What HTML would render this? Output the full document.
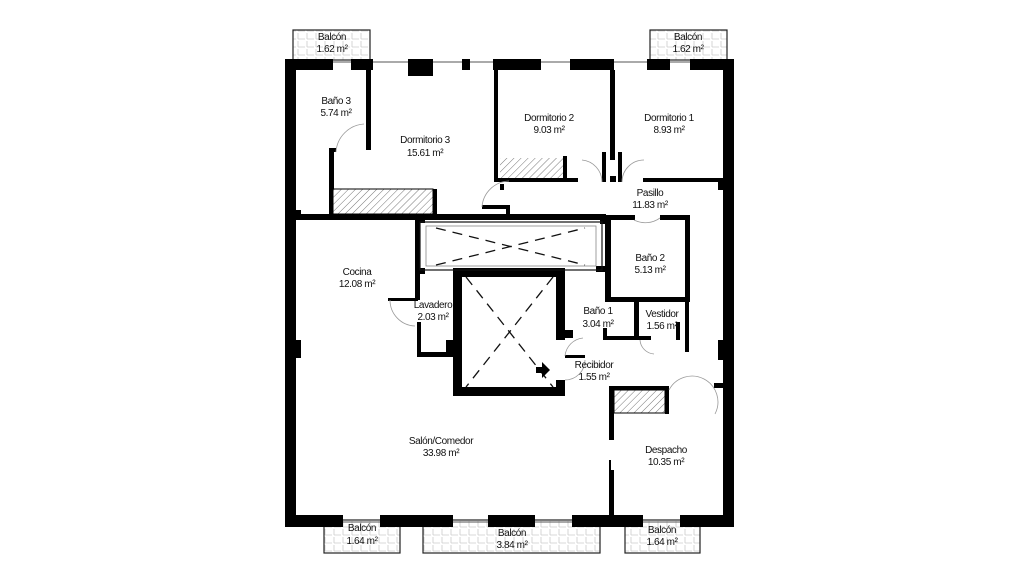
<!DOCTYPE html>
<html><head><meta charset="utf-8"><style>
html,body{margin:0;padding:0;background:#fff;width:1020px;height:583px;overflow:hidden}
text{font-family:"Liberation Sans",sans-serif;font-size:10px;fill:#111;text-anchor:middle;letter-spacing:-0.4px}
</style></head><body>
<svg width="1020" height="583" viewBox="0 0 1020 583" xmlns="http://www.w3.org/2000/svg">
<defs>
<pattern id="h" width="5" height="5" patternUnits="userSpaceOnUse" patternTransform="rotate(45)"><rect width="5" height="5" fill="#fff"/><line x1="0" y1="0" x2="0" y2="5" stroke="#777" stroke-width="1"/></pattern>
<pattern id="g" width="9" height="8" patternUnits="userSpaceOnUse"><rect width="9" height="8" fill="#fff"/><path d="M1 1v6M1 7h7" stroke="#ccc" stroke-width="0.8" fill="none"/></pattern>
</defs>
<g stroke="#222" stroke-width="1.2" fill="url(#g)">
<rect x="293" y="30" width="77" height="30"/>
<rect x="650" y="30" width="77" height="30"/>
<rect x="324" y="520" width="76" height="33"/>
<rect x="423" y="520" width="177" height="33"/>
<rect x="625" y="520" width="75" height="33"/>
</g>
<g fill="none" stroke="#555" stroke-width="1">
<rect x="290" y="62" width="440" height="460"/>
</g>
<g fill="#000">
<rect x="285" y="59" width="48" height="11"/>
<rect x="351" y="59" width="22" height="11"/>
<rect x="408" y="59" width="25" height="17"/>
<rect x="462" y="59" width="8" height="11"/>
<rect x="493" y="59" width="48" height="11"/>
<rect x="570" y="59" width="44" height="11"/>
<rect x="647" y="59" width="23" height="11"/>
<rect x="690" y="59" width="44" height="11"/>
<rect x="285" y="59" width="11" height="468"/>
<rect x="296" y="340" width="5" height="18"/>
<rect x="296" y="210" width="5" height="10"/>
<rect x="723" y="59" width="11" height="468"/>
<rect x="718" y="180" width="5" height="10"/>
<rect x="718" y="340" width="5" height="20"/>
<rect x="714" y="383" width="9" height="5"/>
<!-- bottom wall with window gaps -->
<rect x="285" y="515" width="58" height="12"/>
<rect x="380" y="515" width="73" height="12"/>
<rect x="488" y="515" width="47" height="12"/>
<rect x="572" y="515" width="71" height="12"/>
<rect x="680" y="515" width="54" height="12"/>
<rect x="366" y="70" width="5" height="80"/>
<rect x="329" y="148" width="5" height="66"/>
<rect x="329" y="148" width="7" height="4"/>
<rect x="494" y="70" width="4" height="112"/>
<rect x="494" y="178" width="84" height="4"/>
<rect x="563" y="156" width="4" height="26"/>
<rect x="500" y="184" width="4" height="6"/>
<rect x="610" y="70" width="5" height="90"/>
<rect x="602" y="152" width="4" height="30"/>
<rect x="618" y="152" width="4" height="30"/>
<rect x="610" y="176" width="6" height="6"/>
<rect x="643" y="178" width="80" height="4"/>
<rect x="296" y="214" width="310" height="6"/>
<rect x="482" y="205" width="28" height="4"/>
<rect x="506" y="205" width="4" height="14"/>
<rect x="415" y="218" width="5" height="82"/>
<rect x="388" y="298" width="30" height="3"/>
<rect x="417" y="218" width="8" height="5"/>
<rect x="417" y="268" width="8" height="6"/>
<rect x="600" y="218" width="6" height="6"/>
<rect x="596" y="266" width="10" height="6"/>
<rect x="417" y="322" width="4" height="35"/>
<rect x="417" y="352" width="40" height="5"/>
<rect x="446" y="340" width="10" height="14"/>
<rect x="453" y="268" width="112" height="9"/>
<rect x="453" y="268" width="9" height="128"/>
<rect x="453" y="387" width="112" height="9"/>
<rect x="556" y="268" width="9" height="60"/>
<rect x="556" y="328" width="9" height="12"/>
<rect x="563" y="330" width="10" height="8"/>
<rect x="556" y="380" width="9" height="16"/>
<rect x="565" y="355" width="20" height="3"/>
<rect x="605" y="215" width="6" height="86"/>
<rect x="605" y="297" width="85" height="5"/>
<rect x="685" y="215" width="5" height="87"/>
<rect x="605" y="215" width="30" height="5"/>
<rect x="660" y="215" width="30" height="5"/>
<rect x="596" y="215" width="12" height="5"/>
<rect x="603" y="328" width="4" height="12"/>
<rect x="603" y="336" width="35" height="4"/>
<rect x="634" y="300" width="5" height="40"/>
<rect x="676" y="322" width="4" height="18"/>
<rect x="685" y="300" width="4" height="52"/>
<rect x="639" y="336" width="12" height="4"/>
<rect x="609" y="386" width="5" height="54"/>
<rect x="609" y="386" width="60" height="4"/>
<rect x="665" y="386" width="4" height="28"/>
<rect x="609" y="470" width="5" height="48"/>
<rect x="609" y="460" width="2" height="10"/>
</g>
<rect x="500" y="158" width="63" height="20" fill="url(#h)"/>
<rect x="333" y="189" width="100" height="25" fill="url(#h)" stroke="#000" stroke-width="1"/>
<rect x="433" y="189" width="4" height="25" fill="#000"/>
<rect x="614" y="390" width="51" height="23" fill="url(#h)" stroke="#000" stroke-width="1"/>
<g fill="none" stroke="#111" stroke-width="1.2">
<rect x="420" y="222" width="182" height="48"/>
<rect x="426" y="226" width="170" height="40" stroke="#888" stroke-width="0.8"/>
</g>
<g stroke="#111" stroke-width="1.3" stroke-dasharray="10,7" fill="none">
<line x1="436" y1="228" x2="585" y2="265"/>
<line x1="436" y1="265" x2="585" y2="228"/>
<line x1="466" y1="277" x2="553" y2="387"/>
<line x1="553" y1="277" x2="466" y2="387"/>
</g>
<g fill="none" stroke="#999" stroke-width="0.8">
<path d="M336 152 A30 30 0 0 1 364 124"/>
<path d="M482 207 A28 28 0 0 1 509 181"/>
<path d="M602 182 A22 22 0 0 0 582 160"/>
<path d="M622 182 A22 22 0 0 1 644 160"/>
<path d="M634 220 A25 25 0 0 0 660 218"/>
<path d="M390 300 A26 26 0 0 0 415 326"/>
<path d="M565 356 A20 20 0 0 1 583 338"/>
<path d="M565 380 A20 20 0 0 0 585 360"/>
<path d="M640 340 A15 15 0 0 0 654 354"/>
<path d="M669 390 A24 24 0 0 1 715 414"/>
</g>
<path d="M536 367 h6 v-5 l8 8 l-8 8 v-5 h-6z" fill="#000"/>
<text x="332" y="40">Balcón</text><text x="332" y="52">1.62 m²</text>
<text x="688" y="40">Balcón</text><text x="688" y="52">1.62 m²</text>
<text x="336" y="104">Baño 3</text><text x="336" y="116">5.74 m²</text>
<text x="425" y="143">Dormitorio 3</text><text x="425" y="156">15.61 m²</text>
<text x="549" y="121">Dormitorio 2</text><text x="549" y="133">9.03 m²</text>
<text x="669" y="121">Dormitorio 1</text><text x="669" y="133">8.93 m²</text>
<text x="650" y="196">Pasillo</text><text x="650" y="208">11.83 m²</text>
<text x="650" y="261">Baño 2</text><text x="650" y="273">5.13 m²</text>
<text x="357" y="275">Cocina</text><text x="357" y="287">12.08 m²</text>
<text x="433" y="308">Lavadero</text><text x="433" y="320">2.03 m²</text>
<text x="598" y="314">Baño 1</text><text x="598" y="327">3.04 m²</text>
<text x="662" y="317">Vestidor</text><text x="662" y="329">1.56 m²</text>
<text x="594" y="368">Recibidor</text><text x="594" y="380">1.55 m²</text>
<text x="441" y="444">Salón/Comedor</text><text x="441" y="456">33.98 m²</text>
<text x="666" y="453">Despacho</text><text x="666" y="465">10.35 m²</text>
<text x="362" y="531">Balcón</text><text x="362" y="544">1.64 m²</text>
<text x="512" y="536">Balcón</text><text x="512" y="548">3.84 m²</text>
<text x="662" y="533">Balcón</text><text x="662" y="545">1.64 m²</text>
</svg>
</body></html>
